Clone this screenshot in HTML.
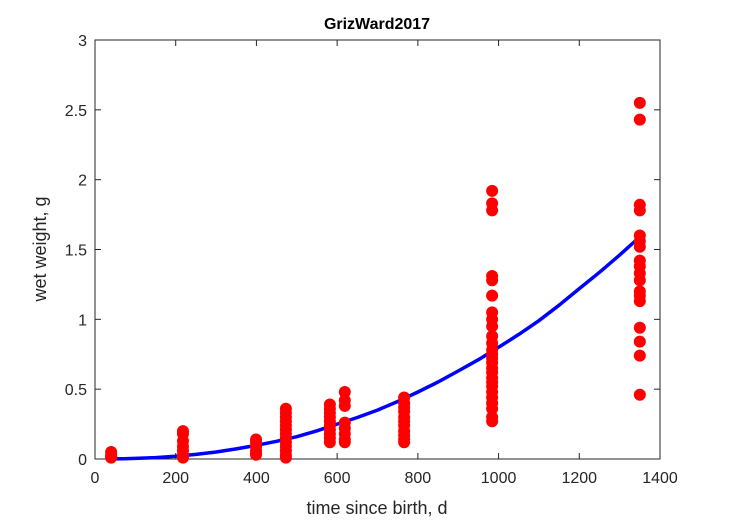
<!DOCTYPE html>
<html><head><meta charset="utf-8"><style>
body{margin:0;background:#fff;}
svg{display:block;font-family:"Liberation Sans",sans-serif;}
</style></head><body>
<svg id="chart" width="729" height="521">
<rect x="0" y="0" width="729" height="521" fill="#fff"/>
<rect x="95" y="40" width="565" height="419" fill="#fff" stroke="#262626" stroke-width="1"/>
<g id="ticks"></g>
<g id="curve"></g>
<g id="points"></g>
<text x="377" y="29" text-anchor="middle" font-size="16" font-weight="bold" fill="#000">GrizWard2017</text>
<text x="377" y="514" text-anchor="middle" font-size="18" fill="#262626">time since birth, d</text>
<text transform="translate(46,249) rotate(-90)" text-anchor="middle" font-size="18" fill="#262626">wet weight, g</text>
</svg>
<script>
const xTicks=[0,200,400,600,800,1000,1200,1400];
const yTicks=[0,0.5,1,1.5,2,2.5,3];
const yTickLabels=["0","0.5","1","1.5","2","2.5","3"];
const groupTimes=[40,218,399,473,582,619,766,984,1350];
const groupWeights=[
[0.05,0.03,0.02,0.01],
[0.2,0.18,0.13,0.09,0.06,0.03,0.01],
[0.14,0.12,0.09,0.06,0.04,0.03],
[0.36,0.33,0.3,0.27,0.24,0.21,0.18,0.15,0.12,0.09,0.06,0.03,0.01],
[0.39,0.36,0.33,0.3,0.27,0.24,0.21,0.18,0.15,0.12],
[0.48,0.42,0.38,0.26,0.22,0.18,0.14,0.12],
[0.44,0.4,0.37,0.34,0.3,0.27,0.24,0.2,0.17,0.14,0.12],
[1.92,1.83,1.78,1.31,1.28,1.17,1.05,1.0,0.95,0.88,0.83,0.78,0.75,0.72,0.69,0.65,0.62,0.58,0.55,0.52,0.48,0.44,0.4,0.36,0.3,0.27],
[2.55,2.43,1.82,1.78,1.6,1.56,1.52,1.42,1.38,1.33,1.28,1.2,1.17,1.13,0.94,0.84,0.74,0.46]
];
const curveTimes=[40,70,100,150,200,250,300,350,400,450,500,550,600,650,700,750,800,850,900,950,1000,1050,1100,1150,1200,1250,1300,1350];
const curveWeights=[0.001,0.002,0.004,0.01,0.02,0.033,0.05,0.072,0.098,0.127,0.16,0.202,0.25,0.297,0.35,0.412,0.48,0.551,0.63,0.711,0.8,0.892,0.99,1.101,1.22,1.337,1.46,1.59];

const NS="http://www.w3.org/2000/svg";
const X0=95,X1=660,Y0=459,Y1=40;
function sx(v){return X0+(v-0)/(1400-0)*(X1-X0);}
function sy(v){return Y0-(v-0)/(3-0)*(Y0-Y1);}
function mk(tag,attrs,parent){const e=document.createElementNS(NS,tag);for(const k in attrs)e.setAttribute(k,attrs[k]);parent.appendChild(e);return e;}

const tg=document.getElementById('ticks');
xTicks.forEach(t=>{
  const x=sx(t);
  const l=mk('line',{x1:x,x2:x,y1:Y0,y2:Y0-6,stroke:'#262626'},tg);
  
  
  const l2=mk('line',{x1:x,x2:x,y1:Y1,y2:Y1+6,stroke:'#262626'},tg);
  
  
  const tx=mk('text',{x:x,y:Y0+24,'text-anchor':'middle','font-size':'16',fill:'#262626'},tg);
  tx.textContent=String(t);
  
  
});
yTicks.forEach((t,i)=>{
  const y=sy(t);
  const l=mk('line',{x1:X0,x2:X0+6,y1:y,y2:y,stroke:'#262626'},tg);
  
  
  const l2=mk('line',{x1:X1,x2:X1-6,y1:y,y2:y,stroke:'#262626'},tg);
  
  
  const tx=mk('text',{x:X0-8,y:y+6,'text-anchor':'end','font-size':'16',fill:'#262626'},tg);
  tx.textContent=yTickLabels[i];
  
  
});

const cg=document.getElementById('curve');
const d=curveTimes.map((t,i)=>(i?'L':'M')+sx(t).toFixed(1)+','+sy(curveWeights[i]).toFixed(1)).join(' ');
const path=mk('path',{d:d,fill:'none',stroke:'#0000ff','stroke-width':'3.5','stroke-linejoin':'round'},cg);



const pg=document.getElementById('points');
groupTimes.forEach((t,gi)=>{
  groupWeights[gi].forEach(w=>{
    const c=mk('circle',{cx:sx(t),cy:sy(w),r:6,fill:'#ff0000'},pg);
    
    
  });
});
</script>
</body></html>
